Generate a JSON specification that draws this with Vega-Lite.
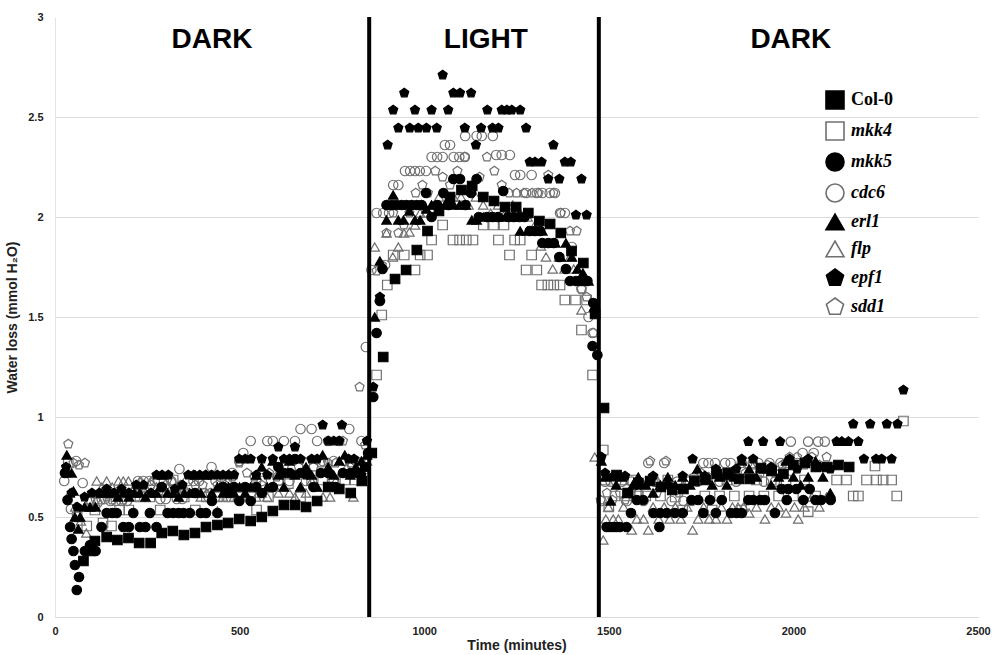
{
"$schema":"https://vega.github.io/schema/vega-lite/v6.json",
"width":923,"height":600,
"autosize":{"type":"none"},
"padding":{"left":55,"top":17,"right":16,"bottom":38},
"background":"white",
"config":{"view":{"stroke":null},"font":"Liberation Sans"},
"datasets":{
"marks":[{"t":851},{"t":1473}],
"labels":[{"t":425,"v":2.885,"label":"DARK"},{"t":1167,"v":2.885,"label":"LIGHT"},{"t":1993,"v":2.885,"label":"DARK"}],
"pts":[
{"s":"mkk4","t":36,"v":0.77},{"s":"mkk4","t":60,"v":0.5},{"s":"mkk4","t":86,"v":0.455},{"s":"mkk4","t":108,"v":0.535},{"s":"mkk4","t":130,"v":0.47},{"s":"mkk4","t":153,"v":0.455},{"s":"mkk4","t":175,"v":0.535},{"s":"mkk4","t":200,"v":0.535},{"s":"mkk4","t":230,"v":0.6},{"s":"mkk4","t":257,"v":0.6},{"s":"mkk4","t":285,"v":0.535},{"s":"mkk4","t":320,"v":0.685},{"s":"mkk4","t":350,"v":0.6},{"s":"mkk4","t":380,"v":0.535},{"s":"mkk4","t":410,"v":0.6},{"s":"mkk4","t":440,"v":0.6},{"s":"mkk4","t":470,"v":0.6},{"s":"mkk4","t":499,"v":0.6},{"s":"mkk4","t":530,"v":0.6},{"s":"mkk4","t":546,"v":0.535},{"s":"mkk4","t":578,"v":0.6},{"s":"mkk4","t":605,"v":0.685},{"s":"mkk4","t":632,"v":0.667},{"s":"mkk4","t":665,"v":0.6},{"s":"mkk4","t":695,"v":0.685},{"s":"mkk4","t":725,"v":0.685},{"s":"mkk4","t":755,"v":0.685},{"s":"mkk4","t":785,"v":0.685},{"s":"mkk4","t":813,"v":0.685},{"s":"mkk4","t":840,"v":0.77},
{"s":"mkk4","t":871,"v":1.21},{"s":"mkk4","t":885,"v":1.51},{"s":"mkk4","t":900,"v":1.66},{"s":"mkk4","t":916,"v":1.81},{"s":"mkk4","t":946,"v":1.81},{"s":"mkk4","t":975,"v":1.735},{"s":"mkk4","t":989,"v":1.81},{"s":"mkk4","t":1009,"v":1.81},{"s":"mkk4","t":1020,"v":1.885},{"s":"mkk4","t":1050,"v":1.96},{"s":"mkk4","t":1078,"v":1.885},{"s":"mkk4","t":1096,"v":1.885},{"s":"mkk4","t":1114,"v":1.885},{"s":"mkk4","t":1132,"v":1.885},{"s":"mkk4","t":1160,"v":1.96},{"s":"mkk4","t":1188,"v":1.96},{"s":"mkk4","t":1201,"v":1.885},{"s":"mkk4","t":1216,"v":1.96},{"s":"mkk4","t":1231,"v":1.81},{"s":"mkk4","t":1245,"v":1.885},{"s":"mkk4","t":1260,"v":1.885},{"s":"mkk4","t":1276,"v":1.735},{"s":"mkk4","t":1291,"v":1.81},{"s":"mkk4","t":1305,"v":1.735},{"s":"mkk4","t":1318,"v":1.66},{"s":"mkk4","t":1335,"v":1.66},{"s":"mkk4","t":1351,"v":1.66},{"s":"mkk4","t":1368,"v":1.66},{"s":"mkk4","t":1381,"v":1.585},{"s":"mkk4","t":1410,"v":1.585},{"s":"mkk4","t":1426,"v":1.435},{"s":"mkk4","t":1440,"v":1.585},{"s":"mkk4","t":1456,"v":1.21},
{"s":"mkk4","t":1485,"v":0.835},{"s":"mkk4","t":1490,"v":0.685},{"s":"mkk4","t":1500,"v":0.55},{"s":"mkk4","t":1517,"v":0.605},{"s":"mkk4","t":1535,"v":0.685},{"s":"mkk4","t":1550,"v":0.605},{"s":"mkk4","t":1565,"v":0.685},{"s":"mkk4","t":1580,"v":0.605},{"s":"mkk4","t":1600,"v":0.605},{"s":"mkk4","t":1620,"v":0.685},{"s":"mkk4","t":1640,"v":0.605},{"s":"mkk4","t":1660,"v":0.685},{"s":"mkk4","t":1680,"v":0.6},{"s":"mkk4","t":1700,"v":0.535},{"s":"mkk4","t":1720,"v":0.685},{"s":"mkk4","t":1740,"v":0.685},{"s":"mkk4","t":1760,"v":0.605},{"s":"mkk4","t":1780,"v":0.535},{"s":"mkk4","t":1800,"v":0.605},{"s":"mkk4","t":1820,"v":0.685},{"s":"mkk4","t":1840,"v":0.605},{"s":"mkk4","t":1860,"v":0.535},{"s":"mkk4","t":1880,"v":0.605},{"s":"mkk4","t":1900,"v":0.685},{"s":"mkk4","t":1920,"v":0.605},{"s":"mkk4","t":1940,"v":0.685},{"s":"mkk4","t":1960,"v":0.605},{"s":"mkk4","t":1980,"v":0.685},{"s":"mkk4","t":2000,"v":0.605},{"s":"mkk4","t":2030,"v":0.685},{"s":"mkk4","t":2040,"v":0.527},{"s":"mkk4","t":2060,"v":0.605},{"s":"mkk4","t":2117,"v":0.685},{"s":"mkk4","t":2144,"v":0.685},{"s":"mkk4","t":2162,"v":0.605},{"s":"mkk4","t":2176,"v":0.605},{"s":"mkk4","t":2198,"v":0.685},{"s":"mkk4","t":2221,"v":0.755},{"s":"mkk4","t":2225,"v":0.685},{"s":"mkk4","t":2243,"v":0.685},{"s":"mkk4","t":2266,"v":0.685},{"s":"mkk4","t":2280,"v":0.605},{"s":"mkk4","t":2298,"v":0.98},
{"s":"cdc6","t":25,"v":0.68},{"s":"cdc6","t":43,"v":0.54},{"s":"cdc6","t":57,"v":0.78},{"s":"cdc6","t":75,"v":0.67},{"s":"cdc6","t":95,"v":0.58},{"s":"cdc6","t":115,"v":0.57},{"s":"cdc6","t":135,"v":0.59},{"s":"cdc6","t":150,"v":0.58},{"s":"cdc6","t":165,"v":0.58},{"s":"cdc6","t":180,"v":0.58},{"s":"cdc6","t":195,"v":0.58},{"s":"cdc6","t":210,"v":0.62},{"s":"cdc6","t":225,"v":0.68},{"s":"cdc6","t":240,"v":0.68},{"s":"cdc6","t":255,"v":0.68},{"s":"cdc6","t":270,"v":0.68},{"s":"cdc6","t":285,"v":0.59},{"s":"cdc6","t":300,"v":0.59},{"s":"cdc6","t":315,"v":0.68},{"s":"cdc6","t":330,"v":0.59},{"s":"cdc6","t":337,"v":0.74},{"s":"cdc6","t":345,"v":0.59},{"s":"cdc6","t":360,"v":0.68},{"s":"cdc6","t":375,"v":0.68},{"s":"cdc6","t":390,"v":0.68},{"s":"cdc6","t":405,"v":0.62},{"s":"cdc6","t":424,"v":0.75},{"s":"cdc6","t":435,"v":0.68},{"s":"cdc6","t":450,"v":0.68},{"s":"cdc6","t":465,"v":0.68},{"s":"cdc6","t":480,"v":0.72},{"s":"cdc6","t":499,"v":0.78},{"s":"cdc6","t":510,"v":0.82},{"s":"cdc6","t":530,"v":0.88},{"s":"cdc6","t":545,"v":0.68},{"s":"cdc6","t":560,"v":0.68},{"s":"cdc6","t":575,"v":0.88},{"s":"cdc6","t":590,"v":0.88},{"s":"cdc6","t":605,"v":0.68},{"s":"cdc6","t":620,"v":0.88},{"s":"cdc6","t":635,"v":0.68},{"s":"cdc6","t":650,"v":0.88},{"s":"cdc6","t":665,"v":0.94},{"s":"cdc6","t":680,"v":0.68},{"s":"cdc6","t":695,"v":0.94},{"s":"cdc6","t":710,"v":0.88},{"s":"cdc6","t":725,"v":0.78},{"s":"cdc6","t":740,"v":0.88},{"s":"cdc6","t":755,"v":0.78},{"s":"cdc6","t":770,"v":0.88},{"s":"cdc6","t":785,"v":0.78},{"s":"cdc6","t":797,"v":0.94},{"s":"cdc6","t":815,"v":0.78},{"s":"cdc6","t":830,"v":0.88},{"s":"cdc6","t":842,"v":1.35},
{"s":"cdc6","t":857,"v":1.735},{"s":"cdc6","t":871,"v":2.02},{"s":"cdc6","t":889,"v":2.02},{"s":"cdc6","t":894,"v":1.76},{"s":"cdc6","t":905,"v":2.02},{"s":"cdc6","t":916,"v":2.16},{"s":"cdc6","t":930,"v":2.16},{"s":"cdc6","t":948,"v":2.23},{"s":"cdc6","t":962,"v":2.23},{"s":"cdc6","t":975,"v":2.23},{"s":"cdc6","t":988,"v":2.23},{"s":"cdc6","t":1005,"v":2.23},{"s":"cdc6","t":1020,"v":2.3},{"s":"cdc6","t":1035,"v":2.3},{"s":"cdc6","t":1050,"v":2.3},{"s":"cdc6","t":1056,"v":2.36},{"s":"cdc6","t":1070,"v":2.36},{"s":"cdc6","t":1080,"v":2.3},{"s":"cdc6","t":1095,"v":2.3},{"s":"cdc6","t":1110,"v":2.3},{"s":"cdc6","t":1111,"v":2.405},{"s":"cdc6","t":1142,"v":2.405},{"s":"cdc6","t":1156,"v":2.405},{"s":"cdc6","t":1186,"v":2.405},{"s":"cdc6","t":1195,"v":2.31},{"s":"cdc6","t":1210,"v":2.31},{"s":"cdc6","t":1232,"v":2.31},{"s":"cdc6","t":1246,"v":2.21},{"s":"cdc6","t":1260,"v":2.21},{"s":"cdc6","t":1276,"v":2.12},{"s":"cdc6","t":1291,"v":2.21},{"s":"cdc6","t":1305,"v":2.12},{"s":"cdc6","t":1320,"v":2.12},{"s":"cdc6","t":1340,"v":2.12},{"s":"cdc6","t":1354,"v":2.12},{"s":"cdc6","t":1368,"v":2.02},{"s":"cdc6","t":1381,"v":2.02},{"s":"cdc6","t":1400,"v":1.85},{"s":"cdc6","t":1426,"v":1.64},{"s":"cdc6","t":1445,"v":1.5},{"s":"cdc6","t":1456,"v":1.42},
{"s":"cdc6","t":1480,"v":0.58},{"s":"cdc6","t":1490,"v":0.677},{"s":"cdc6","t":1505,"v":0.677},{"s":"cdc6","t":1520,"v":0.677},{"s":"cdc6","t":1535,"v":0.677},{"s":"cdc6","t":1549,"v":0.58},{"s":"cdc6","t":1562,"v":0.677},{"s":"cdc6","t":1580,"v":0.677},{"s":"cdc6","t":1594,"v":0.58},{"s":"cdc6","t":1607,"v":0.77},{"s":"cdc6","t":1625,"v":0.677},{"s":"cdc6","t":1650,"v":0.77},{"s":"cdc6","t":1670,"v":0.58},{"s":"cdc6","t":1685,"v":0.677},{"s":"cdc6","t":1702,"v":0.58},{"s":"cdc6","t":1715,"v":0.677},{"s":"cdc6","t":1725,"v":0.58},{"s":"cdc6","t":1740,"v":0.677},{"s":"cdc6","t":1756,"v":0.77},{"s":"cdc6","t":1770,"v":0.77},{"s":"cdc6","t":1788,"v":0.77},{"s":"cdc6","t":1800,"v":0.677},{"s":"cdc6","t":1815,"v":0.77},{"s":"cdc6","t":1830,"v":0.77},{"s":"cdc6","t":1845,"v":0.677},{"s":"cdc6","t":1860,"v":0.77},{"s":"cdc6","t":1875,"v":0.77},{"s":"cdc6","t":1890,"v":0.77},{"s":"cdc6","t":1905,"v":0.77},{"s":"cdc6","t":1920,"v":0.677},{"s":"cdc6","t":1935,"v":0.77},{"s":"cdc6","t":1950,"v":0.677},{"s":"cdc6","t":1965,"v":0.77},{"s":"cdc6","t":1980,"v":0.77},{"s":"cdc6","t":1993,"v":0.877},{"s":"cdc6","t":2010,"v":0.77},{"s":"cdc6","t":2025,"v":0.82},{"s":"cdc6","t":2040,"v":0.877},{"s":"cdc6","t":2055,"v":0.82},{"s":"cdc6","t":2067,"v":0.877},{"s":"cdc6","t":2085,"v":0.877},
{"s":"flp","t":30,"v":0.72},{"s":"flp","t":40,"v":0.62},{"s":"flp","t":55,"v":0.55},{"s":"flp","t":70,"v":0.48},{"s":"flp","t":85,"v":0.42},{"s":"flp","t":100,"v":0.62},{"s":"flp","t":113,"v":0.68},{"s":"flp","t":127,"v":0.65},{"s":"flp","t":140,"v":0.68},{"s":"flp","t":155,"v":0.65},{"s":"flp","t":172,"v":0.68},{"s":"flp","t":185,"v":0.68},{"s":"flp","t":199,"v":0.68},{"s":"flp","t":215,"v":0.65},{"s":"flp","t":230,"v":0.68},{"s":"flp","t":245,"v":0.65},{"s":"flp","t":260,"v":0.68},{"s":"flp","t":275,"v":0.65},{"s":"flp","t":290,"v":0.62},{"s":"flp","t":305,"v":0.65},{"s":"flp","t":320,"v":0.68},{"s":"flp","t":335,"v":0.62},{"s":"flp","t":350,"v":0.65},{"s":"flp","t":365,"v":0.62},{"s":"flp","t":380,"v":0.62},{"s":"flp","t":395,"v":0.6},{"s":"flp","t":410,"v":0.62},{"s":"flp","t":425,"v":0.6},{"s":"flp","t":440,"v":0.53},{"s":"flp","t":455,"v":0.6},{"s":"flp","t":470,"v":0.62},{"s":"flp","t":485,"v":0.6},{"s":"flp","t":500,"v":0.65},{"s":"flp","t":515,"v":0.62},{"s":"flp","t":530,"v":0.65},{"s":"flp","t":545,"v":0.6},{"s":"flp","t":560,"v":0.62},{"s":"flp","t":575,"v":0.6},{"s":"flp","t":590,"v":0.65},{"s":"flp","t":605,"v":0.62},{"s":"flp","t":620,"v":0.65},{"s":"flp","t":635,"v":0.62},{"s":"flp","t":650,"v":0.6},{"s":"flp","t":665,"v":0.65},{"s":"flp","t":680,"v":0.62},{"s":"flp","t":695,"v":0.68},{"s":"flp","t":710,"v":0.65},{"s":"flp","t":726,"v":0.6},{"s":"flp","t":745,"v":0.6},{"s":"flp","t":760,"v":0.68},{"s":"flp","t":775,"v":0.72},{"s":"flp","t":790,"v":0.75},{"s":"flp","t":808,"v":0.6},{"s":"flp","t":825,"v":0.72},{"s":"flp","t":845,"v":0.78},
{"s":"flp","t":866,"v":1.85},{"s":"flp","t":880,"v":1.6},{"s":"flp","t":898,"v":1.92},{"s":"flp","t":915,"v":1.8},{"s":"flp","t":930,"v":1.85},{"s":"flp","t":945,"v":1.92},{"s":"flp","t":960,"v":1.925},{"s":"flp","t":975,"v":1.96},{"s":"flp","t":989,"v":2.02},{"s":"flp","t":1005,"v":2.02},{"s":"flp","t":1020,"v":2.06},{"s":"flp","t":1040,"v":2.1},{"s":"flp","t":1060,"v":2.06},{"s":"flp","t":1080,"v":2.1},{"s":"flp","t":1100,"v":2.1},{"s":"flp","t":1120,"v":2.06},{"s":"flp","t":1140,"v":2.1},{"s":"flp","t":1160,"v":2.06},{"s":"flp","t":1180,"v":2.02},{"s":"flp","t":1200,"v":2.06},{"s":"flp","t":1220,"v":2.02},{"s":"flp","t":1240,"v":2.06},{"s":"flp","t":1260,"v":2.02},{"s":"flp","t":1280,"v":2.0},{"s":"flp","t":1300,"v":1.96},{"s":"flp","t":1316,"v":1.855},{"s":"flp","t":1330,"v":1.8},{"s":"flp","t":1348,"v":1.74},{"s":"flp","t":1365,"v":1.8},{"s":"flp","t":1380,"v":1.74},{"s":"flp","t":1395,"v":1.8},{"s":"flp","t":1405,"v":1.74},{"s":"flp","t":1426,"v":1.535},{"s":"flp","t":1462,"v":0.8},
{"s":"flp","t":1485,"v":0.385},{"s":"flp","t":1492,"v":0.49},{"s":"flp","t":1499,"v":0.55},{"s":"flp","t":1512,"v":0.49},{"s":"flp","t":1526,"v":0.49},{"s":"flp","t":1540,"v":0.55},{"s":"flp","t":1562,"v":0.435},{"s":"flp","t":1576,"v":0.49},{"s":"flp","t":1594,"v":0.49},{"s":"flp","t":1607,"v":0.435},{"s":"flp","t":1620,"v":0.55},{"s":"flp","t":1635,"v":0.49},{"s":"flp","t":1650,"v":0.55},{"s":"flp","t":1665,"v":0.49},{"s":"flp","t":1680,"v":0.55},{"s":"flp","t":1695,"v":0.49},{"s":"flp","t":1712,"v":0.55},{"s":"flp","t":1727,"v":0.435},{"s":"flp","t":1742,"v":0.49},{"s":"flp","t":1757,"v":0.55},{"s":"flp","t":1772,"v":0.49},{"s":"flp","t":1790,"v":0.49},{"s":"flp","t":1805,"v":0.55},{"s":"flp","t":1820,"v":0.49},{"s":"flp","t":1835,"v":0.55},{"s":"flp","t":1850,"v":0.55},{"s":"flp","t":1865,"v":0.55},{"s":"flp","t":1880,"v":0.52},{"s":"flp","t":1900,"v":0.55},{"s":"flp","t":1923,"v":0.49},{"s":"flp","t":1940,"v":0.55},{"s":"flp","t":1960,"v":0.55},{"s":"flp","t":1980,"v":0.52},{"s":"flp","t":2003,"v":0.55},{"s":"flp","t":2013,"v":0.49},{"s":"flp","t":2030,"v":0.55},{"s":"flp","t":2050,"v":0.6},{"s":"flp","t":2070,"v":0.55},{"s":"flp","t":2090,"v":0.6},
{"s":"sdd1","t":36,"v":0.865},{"s":"sdd1","t":50,"v":0.77},{"s":"sdd1","t":65,"v":0.76},{"s":"sdd1","t":81,"v":0.77},{"s":"sdd1","t":95,"v":0.585},{"s":"sdd1","t":110,"v":0.585},{"s":"sdd1","t":125,"v":0.585},{"s":"sdd1","t":140,"v":0.6},{"s":"sdd1","t":155,"v":0.585},{"s":"sdd1","t":170,"v":0.6},{"s":"sdd1","t":185,"v":0.585},{"s":"sdd1","t":200,"v":0.62},{"s":"sdd1","t":220,"v":0.6},{"s":"sdd1","t":240,"v":0.62},{"s":"sdd1","t":260,"v":0.66},{"s":"sdd1","t":280,"v":0.62},{"s":"sdd1","t":300,"v":0.66},{"s":"sdd1","t":320,"v":0.62},{"s":"sdd1","t":340,"v":0.66},{"s":"sdd1","t":360,"v":0.62},{"s":"sdd1","t":380,"v":0.66},{"s":"sdd1","t":400,"v":0.66},{"s":"sdd1","t":420,"v":0.62},{"s":"sdd1","t":440,"v":0.66},{"s":"sdd1","t":460,"v":0.66},{"s":"sdd1","t":480,"v":0.7},{"s":"sdd1","t":499,"v":0.77},{"s":"sdd1","t":520,"v":0.72},{"s":"sdd1","t":540,"v":0.7},{"s":"sdd1","t":560,"v":0.66},{"s":"sdd1","t":580,"v":0.72},{"s":"sdd1","t":600,"v":0.7},{"s":"sdd1","t":620,"v":0.75},{"s":"sdd1","t":640,"v":0.72},{"s":"sdd1","t":660,"v":0.75},{"s":"sdd1","t":680,"v":0.77},{"s":"sdd1","t":700,"v":0.75},{"s":"sdd1","t":720,"v":0.77},{"s":"sdd1","t":740,"v":0.77},{"s":"sdd1","t":760,"v":0.77},{"s":"sdd1","t":780,"v":0.88},{"s":"sdd1","t":800,"v":0.77},{"s":"sdd1","t":825,"v":1.15},{"s":"sdd1","t":840,"v":0.86},
{"s":"sdd1","t":871,"v":1.73},{"s":"sdd1","t":885,"v":1.76},{"s":"sdd1","t":898,"v":1.92},{"s":"sdd1","t":916,"v":2.02},{"s":"sdd1","t":930,"v":1.92},{"s":"sdd1","t":945,"v":1.96},{"s":"sdd1","t":960,"v":2.02},{"s":"sdd1","t":977,"v":2.12},{"s":"sdd1","t":995,"v":2.16},{"s":"sdd1","t":1010,"v":2.12},{"s":"sdd1","t":1030,"v":2.23},{"s":"sdd1","t":1050,"v":2.2},{"s":"sdd1","t":1070,"v":2.16},{"s":"sdd1","t":1090,"v":2.23},{"s":"sdd1","t":1110,"v":2.3},{"s":"sdd1","t":1130,"v":2.16},{"s":"sdd1","t":1150,"v":2.2},{"s":"sdd1","t":1170,"v":2.3},{"s":"sdd1","t":1190,"v":2.23},{"s":"sdd1","t":1210,"v":2.16},{"s":"sdd1","t":1230,"v":2.12},{"s":"sdd1","t":1250,"v":2.12},{"s":"sdd1","t":1270,"v":2.12},{"s":"sdd1","t":1292,"v":2.12},{"s":"sdd1","t":1310,"v":2.12},{"s":"sdd1","t":1336,"v":2.21},{"s":"sdd1","t":1350,"v":2.12},{"s":"sdd1","t":1370,"v":2.02},{"s":"sdd1","t":1395,"v":1.93},{"s":"sdd1","t":1413,"v":1.93},{"s":"sdd1","t":1426,"v":1.64},{"s":"sdd1","t":1440,"v":1.6},{"s":"sdd1","t":1458,"v":1.42},
{"s":"sdd1","t":1478,"v":0.585},{"s":"sdd1","t":1495,"v":0.62},{"s":"sdd1","t":1510,"v":0.585},{"s":"sdd1","t":1530,"v":0.62},{"s":"sdd1","t":1544,"v":0.585},{"s":"sdd1","t":1560,"v":0.62},{"s":"sdd1","t":1580,"v":0.62},{"s":"sdd1","t":1600,"v":0.66},{"s":"sdd1","t":1612,"v":0.78},{"s":"sdd1","t":1630,"v":0.62},{"s":"sdd1","t":1655,"v":0.78},{"s":"sdd1","t":1670,"v":0.66},{"s":"sdd1","t":1690,"v":0.62},{"s":"sdd1","t":1710,"v":0.66},{"s":"sdd1","t":1730,"v":0.7},{"s":"sdd1","t":1750,"v":0.72},{"s":"sdd1","t":1770,"v":0.7},{"s":"sdd1","t":1790,"v":0.72},{"s":"sdd1","t":1810,"v":0.7},{"s":"sdd1","t":1830,"v":0.72},{"s":"sdd1","t":1850,"v":0.7},{"s":"sdd1","t":1870,"v":0.72},{"s":"sdd1","t":1890,"v":0.76},{"s":"sdd1","t":1910,"v":0.72},{"s":"sdd1","t":1930,"v":0.76},{"s":"sdd1","t":1950,"v":0.72},{"s":"sdd1","t":1970,"v":0.76},{"s":"sdd1","t":1990,"v":0.8},{"s":"sdd1","t":2010,"v":0.8},{"s":"sdd1","t":2030,"v":0.76},{"s":"sdd1","t":2050,"v":0.8},{"s":"sdd1","t":2070,"v":0.76},{"s":"sdd1","t":2090,"v":0.8},
{"s":"Col-0","t":77,"v":0.28},{"s":"Col-0","t":95,"v":0.33},{"s":"Col-0","t":108,"v":0.38},{"s":"Col-0","t":140,"v":0.4},{"s":"Col-0","t":169,"v":0.385},{"s":"Col-0","t":199,"v":0.395},{"s":"Col-0","t":228,"v":0.37},{"s":"Col-0","t":259,"v":0.37},{"s":"Col-0","t":289,"v":0.42},{"s":"Col-0","t":319,"v":0.43},{"s":"Col-0","t":349,"v":0.41},{"s":"Col-0","t":379,"v":0.42},{"s":"Col-0","t":409,"v":0.45},{"s":"Col-0","t":440,"v":0.46},{"s":"Col-0","t":469,"v":0.47},{"s":"Col-0","t":499,"v":0.49},{"s":"Col-0","t":530,"v":0.48},{"s":"Col-0","t":560,"v":0.5},{"s":"Col-0","t":590,"v":0.53},{"s":"Col-0","t":620,"v":0.56},{"s":"Col-0","t":650,"v":0.56},{"s":"Col-0","t":680,"v":0.55},{"s":"Col-0","t":710,"v":0.58},{"s":"Col-0","t":740,"v":0.65},{"s":"Col-0","t":770,"v":0.64},{"s":"Col-0","t":801,"v":0.62},{"s":"Col-0","t":831,"v":0.68},
{"s":"Col-0","t":858,"v":0.82},{"s":"Col-0","t":889,"v":1.3},{"s":"Col-0","t":921,"v":1.69},{"s":"Col-0","t":951,"v":1.735},{"s":"Col-0","t":980,"v":1.835},{"s":"Col-0","t":1009,"v":1.93},{"s":"Col-0","t":1040,"v":2.03},{"s":"Col-0","t":1070,"v":2.1},{"s":"Col-0","t":1101,"v":2.135},{"s":"Col-0","t":1130,"v":2.155},{"s":"Col-0","t":1160,"v":2.1},{"s":"Col-0","t":1189,"v":2.08},{"s":"Col-0","t":1219,"v":2.05},{"s":"Col-0","t":1249,"v":2.05},{"s":"Col-0","t":1282,"v":2.02},{"s":"Col-0","t":1312,"v":1.98},{"s":"Col-0","t":1341,"v":1.965},{"s":"Col-0","t":1370,"v":1.92},{"s":"Col-0","t":1399,"v":1.83},{"s":"Col-0","t":1431,"v":1.77},{"s":"Col-0","t":1463,"v":1.515},
{"s":"Col-0","t":1487,"v":1.045},{"s":"Col-0","t":1521,"v":0.71},{"s":"Col-0","t":1551,"v":0.62},{"s":"Col-0","t":1580,"v":0.67},{"s":"Col-0","t":1612,"v":0.68},{"s":"Col-0","t":1641,"v":0.65},{"s":"Col-0","t":1672,"v":0.635},{"s":"Col-0","t":1702,"v":0.64},{"s":"Col-0","t":1732,"v":0.68},{"s":"Col-0","t":1762,"v":0.685},{"s":"Col-0","t":1792,"v":0.715},{"s":"Col-0","t":1822,"v":0.72},{"s":"Col-0","t":1853,"v":0.69},{"s":"Col-0","t":1882,"v":0.69},{"s":"Col-0","t":1912,"v":0.745},{"s":"Col-0","t":1941,"v":0.73},{"s":"Col-0","t":1973,"v":0.715},{"s":"Col-0","t":2000,"v":0.76},{"s":"Col-0","t":2031,"v":0.77},{"s":"Col-0","t":2061,"v":0.75},{"s":"Col-0","t":2092,"v":0.75},{"s":"Col-0","t":2122,"v":0.76},{"s":"Col-0","t":2151,"v":0.75},
{"s":"mkk5","t":27,"v":0.72},{"s":"mkk5","t":34,"v":0.585},{"s":"mkk5","t":41,"v":0.45},{"s":"mkk5","t":45,"v":0.39},{"s":"mkk5","t":50,"v":0.33},{"s":"mkk5","t":54,"v":0.26},{"s":"mkk5","t":59,"v":0.135},{"s":"mkk5","t":65,"v":0.2},{"s":"mkk5","t":81,"v":0.33},{"s":"mkk5","t":95,"v":0.36},{"s":"mkk5","t":110,"v":0.33},{"s":"mkk5","t":126,"v":0.45},{"s":"mkk5","t":140,"v":0.52},{"s":"mkk5","t":155,"v":0.52},{"s":"mkk5","t":167,"v":0.52},{"s":"mkk5","t":185,"v":0.45},{"s":"mkk5","t":200,"v":0.45},{"s":"mkk5","t":212,"v":0.52},{"s":"mkk5","t":230,"v":0.45},{"s":"mkk5","t":245,"v":0.45},{"s":"mkk5","t":257,"v":0.52},{"s":"mkk5","t":275,"v":0.45},{"s":"mkk5","t":289,"v":0.65},{"s":"mkk5","t":305,"v":0.52},{"s":"mkk5","t":320,"v":0.52},{"s":"mkk5","t":335,"v":0.52},{"s":"mkk5","t":348,"v":0.52},{"s":"mkk5","t":365,"v":0.52},{"s":"mkk5","t":379,"v":0.62},{"s":"mkk5","t":395,"v":0.52},{"s":"mkk5","t":409,"v":0.52},{"s":"mkk5","t":425,"v":0.58},{"s":"mkk5","t":440,"v":0.52},{"s":"mkk5","t":455,"v":0.65},{"s":"mkk5","t":469,"v":0.62},{"s":"mkk5","t":485,"v":0.65},{"s":"mkk5","t":499,"v":0.58},{"s":"mkk5","t":515,"v":0.65},{"s":"mkk5","t":530,"v":0.58},{"s":"mkk5","t":545,"v":0.65},{"s":"mkk5","t":560,"v":0.62},{"s":"mkk5","t":590,"v":0.65},{"s":"mkk5","t":605,"v":0.75},{"s":"mkk5","t":620,"v":0.72},{"s":"mkk5","t":635,"v":0.72},{"s":"mkk5","t":650,"v":0.79},{"s":"mkk5","t":665,"v":0.72},{"s":"mkk5","t":680,"v":0.72},{"s":"mkk5","t":700,"v":0.65},{"s":"mkk5","t":720,"v":0.72},{"s":"mkk5","t":740,"v":0.72},{"s":"mkk5","t":760,"v":0.65},{"s":"mkk5","t":780,"v":0.72},{"s":"mkk5","t":800,"v":0.72},{"s":"mkk5","t":820,"v":0.72},{"s":"mkk5","t":840,"v":0.75},{"s":"mkk5","t":848,"v":0.82},
{"s":"mkk5","t":862,"v":1.1},{"s":"mkk5","t":871,"v":1.42},{"s":"mkk5","t":880,"v":1.58},{"s":"mkk5","t":887,"v":1.74},{"s":"mkk5","t":898,"v":2.06},{"s":"mkk5","t":912,"v":2.06},{"s":"mkk5","t":925,"v":2.06},{"s":"mkk5","t":939,"v":2.06},{"s":"mkk5","t":952,"v":2.06},{"s":"mkk5","t":966,"v":2.06},{"s":"mkk5","t":980,"v":2.06},{"s":"mkk5","t":993,"v":2.06},{"s":"mkk5","t":1005,"v":2.12},{"s":"mkk5","t":1020,"v":2.0},{"s":"mkk5","t":1035,"v":2.06},{"s":"mkk5","t":1052,"v":2.12},{"s":"mkk5","t":1066,"v":2.06},{"s":"mkk5","t":1079,"v":2.19},{"s":"mkk5","t":1097,"v":2.19},{"s":"mkk5","t":1112,"v":2.06},{"s":"mkk5","t":1127,"v":2.12},{"s":"mkk5","t":1142,"v":2.19},{"s":"mkk5","t":1148,"v":2.0},{"s":"mkk5","t":1170,"v":2.0},{"s":"mkk5","t":1185,"v":2.0},{"s":"mkk5","t":1200,"v":2.0},{"s":"mkk5","t":1214,"v":2.13},{"s":"mkk5","t":1228,"v":2.0},{"s":"mkk5","t":1243,"v":2.0},{"s":"mkk5","t":1258,"v":2.0},{"s":"mkk5","t":1272,"v":2.0},{"s":"mkk5","t":1286,"v":1.93},{"s":"mkk5","t":1300,"v":1.93},{"s":"mkk5","t":1314,"v":1.93},{"s":"mkk5","t":1320,"v":1.87},{"s":"mkk5","t":1336,"v":1.87},{"s":"mkk5","t":1351,"v":1.87},{"s":"mkk5","t":1366,"v":1.8},{"s":"mkk5","t":1384,"v":1.74},{"s":"mkk5","t":1395,"v":1.68},{"s":"mkk5","t":1411,"v":1.68},{"s":"mkk5","t":1426,"v":1.68},{"s":"mkk5","t":1442,"v":1.68},{"s":"mkk5","t":1458,"v":1.57},{"s":"mkk5","t":1456,"v":1.355},{"s":"mkk5","t":1469,"v":1.31},
{"s":"mkk5","t":1494,"v":0.45},{"s":"mkk5","t":1503,"v":0.45},{"s":"mkk5","t":1512,"v":0.45},{"s":"mkk5","t":1521,"v":0.45},{"s":"mkk5","t":1530,"v":0.45},{"s":"mkk5","t":1548,"v":0.45},{"s":"mkk5","t":1560,"v":0.52},{"s":"mkk5","t":1576,"v":0.585},{"s":"mkk5","t":1593,"v":0.585},{"s":"mkk5","t":1621,"v":0.52},{"s":"mkk5","t":1639,"v":0.52},{"s":"mkk5","t":1637,"v":0.45},{"s":"mkk5","t":1657,"v":0.52},{"s":"mkk5","t":1679,"v":0.52},{"s":"mkk5","t":1700,"v":0.52},{"s":"mkk5","t":1724,"v":0.585},{"s":"mkk5","t":1742,"v":0.585},{"s":"mkk5","t":1756,"v":0.52},{"s":"mkk5","t":1774,"v":0.585},{"s":"mkk5","t":1790,"v":0.52},{"s":"mkk5","t":1806,"v":0.585},{"s":"mkk5","t":1831,"v":0.52},{"s":"mkk5","t":1846,"v":0.52},{"s":"mkk5","t":1860,"v":0.52},{"s":"mkk5","t":1878,"v":0.585},{"s":"mkk5","t":1891,"v":0.585},{"s":"mkk5","t":1910,"v":0.585},{"s":"mkk5","t":1923,"v":0.585},{"s":"mkk5","t":1950,"v":0.52},{"s":"mkk5","t":1968,"v":0.64},{"s":"mkk5","t":1982,"v":0.585},{"s":"mkk5","t":1986,"v":0.64},{"s":"mkk5","t":2008,"v":0.64},{"s":"mkk5","t":2027,"v":0.585},{"s":"mkk5","t":2044,"v":0.64},{"s":"mkk5","t":2060,"v":0.585},{"s":"mkk5","t":2075,"v":0.585},{"s":"mkk5","t":2101,"v":0.585},
{"s":"erl1","t":32,"v":0.81},{"s":"erl1","t":45,"v":0.72},{"s":"erl1","t":50,"v":0.63},{"s":"erl1","t":54,"v":0.5},{"s":"erl1","t":63,"v":0.44},{"s":"erl1","t":68,"v":0.5},{"s":"erl1","t":80,"v":0.55},{"s":"erl1","t":95,"v":0.55},{"s":"erl1","t":110,"v":0.55},{"s":"erl1","t":125,"v":0.62},{"s":"erl1","t":140,"v":0.62},{"s":"erl1","t":155,"v":0.62},{"s":"erl1","t":170,"v":0.6},{"s":"erl1","t":185,"v":0.62},{"s":"erl1","t":200,"v":0.6},{"s":"erl1","t":215,"v":0.62},{"s":"erl1","t":230,"v":0.62},{"s":"erl1","t":245,"v":0.6},{"s":"erl1","t":260,"v":0.62},{"s":"erl1","t":275,"v":0.62},{"s":"erl1","t":290,"v":0.71},{"s":"erl1","t":305,"v":0.62},{"s":"erl1","t":320,"v":0.62},{"s":"erl1","t":335,"v":0.6},{"s":"erl1","t":350,"v":0.62},{"s":"erl1","t":365,"v":0.62},{"s":"erl1","t":380,"v":0.71},{"s":"erl1","t":395,"v":0.62},{"s":"erl1","t":410,"v":0.71},{"s":"erl1","t":425,"v":0.62},{"s":"erl1","t":440,"v":0.65},{"s":"erl1","t":455,"v":0.62},{"s":"erl1","t":470,"v":0.65},{"s":"erl1","t":485,"v":0.62},{"s":"erl1","t":500,"v":0.65},{"s":"erl1","t":515,"v":0.62},{"s":"erl1","t":530,"v":0.65},{"s":"erl1","t":545,"v":0.71},{"s":"erl1","t":560,"v":0.75},{"s":"erl1","t":575,"v":0.65},{"s":"erl1","t":590,"v":0.78},{"s":"erl1","t":605,"v":0.71},{"s":"erl1","t":620,"v":0.65},{"s":"erl1","t":635,"v":0.78},{"s":"erl1","t":650,"v":0.71},{"s":"erl1","t":665,"v":0.65},{"s":"erl1","t":680,"v":0.75},{"s":"erl1","t":695,"v":0.71},{"s":"erl1","t":710,"v":0.65},{"s":"erl1","t":725,"v":0.81},{"s":"erl1","t":740,"v":0.75},{"s":"erl1","t":755,"v":0.71},{"s":"erl1","t":770,"v":0.78},{"s":"erl1","t":785,"v":0.81},{"s":"erl1","t":800,"v":0.71},{"s":"erl1","t":815,"v":0.75},{"s":"erl1","t":830,"v":0.78},{"s":"erl1","t":845,"v":0.81},
{"s":"erl1","t":866,"v":1.5},{"s":"erl1","t":880,"v":1.78},{"s":"erl1","t":898,"v":1.985},{"s":"erl1","t":916,"v":2.11},{"s":"erl1","t":930,"v":1.985},{"s":"erl1","t":944,"v":1.985},{"s":"erl1","t":960,"v":2.03},{"s":"erl1","t":975,"v":1.985},{"s":"erl1","t":989,"v":1.985},{"s":"erl1","t":1006,"v":2.04},{"s":"erl1","t":1020,"v":2.06},{"s":"erl1","t":1040,"v":2.06},{"s":"erl1","t":1056,"v":2.06},{"s":"erl1","t":1080,"v":2.06},{"s":"erl1","t":1096,"v":2.06},{"s":"erl1","t":1112,"v":2.06},{"s":"erl1","t":1129,"v":1.985},{"s":"erl1","t":1142,"v":1.985},{"s":"erl1","t":1160,"v":2.0},{"s":"erl1","t":1180,"v":2.0},{"s":"erl1","t":1200,"v":2.0},{"s":"erl1","t":1220,"v":2.0},{"s":"erl1","t":1240,"v":2.0},{"s":"erl1","t":1260,"v":1.93},{"s":"erl1","t":1280,"v":1.93},{"s":"erl1","t":1300,"v":1.93},{"s":"erl1","t":1320,"v":1.93},{"s":"erl1","t":1340,"v":1.87},{"s":"erl1","t":1355,"v":1.87},{"s":"erl1","t":1370,"v":1.8},{"s":"erl1","t":1384,"v":1.87},{"s":"erl1","t":1400,"v":1.8},{"s":"erl1","t":1415,"v":1.74},{"s":"erl1","t":1430,"v":1.72},{"s":"erl1","t":1445,"v":1.68},{"s":"erl1","t":1460,"v":1.55},
{"s":"erl1","t":1480,"v":0.78},{"s":"erl1","t":1490,"v":0.7},{"s":"erl1","t":1505,"v":0.58},{"s":"erl1","t":1520,"v":0.66},{"s":"erl1","t":1535,"v":0.7},{"s":"erl1","t":1550,"v":0.62},{"s":"erl1","t":1565,"v":0.66},{"s":"erl1","t":1580,"v":0.7},{"s":"erl1","t":1600,"v":0.66},{"s":"erl1","t":1620,"v":0.62},{"s":"erl1","t":1640,"v":0.66},{"s":"erl1","t":1660,"v":0.7},{"s":"erl1","t":1680,"v":0.66},{"s":"erl1","t":1700,"v":0.7},{"s":"erl1","t":1720,"v":0.66},{"s":"erl1","t":1740,"v":0.74},{"s":"erl1","t":1760,"v":0.7},{"s":"erl1","t":1780,"v":0.66},{"s":"erl1","t":1800,"v":0.7},{"s":"erl1","t":1820,"v":0.66},{"s":"erl1","t":1840,"v":0.7},{"s":"erl1","t":1860,"v":0.78},{"s":"erl1","t":1880,"v":0.74},{"s":"erl1","t":1900,"v":0.7},{"s":"erl1","t":1920,"v":0.74},{"s":"erl1","t":1940,"v":0.66},{"s":"erl1","t":1960,"v":0.7},{"s":"erl1","t":1980,"v":0.78},{"s":"erl1","t":2000,"v":0.7},{"s":"erl1","t":2020,"v":0.66},{"s":"erl1","t":2040,"v":0.7},{"s":"erl1","t":2060,"v":0.78},{"s":"erl1","t":2080,"v":0.7},{"s":"erl1","t":2100,"v":0.62},
{"s":"epf1","t":30,"v":0.75},{"s":"epf1","t":45,"v":0.62},{"s":"epf1","t":60,"v":0.55},{"s":"epf1","t":80,"v":0.6},{"s":"epf1","t":100,"v":0.62},{"s":"epf1","t":120,"v":0.62},{"s":"epf1","t":140,"v":0.64},{"s":"epf1","t":160,"v":0.62},{"s":"epf1","t":180,"v":0.64},{"s":"epf1","t":200,"v":0.62},{"s":"epf1","t":220,"v":0.66},{"s":"epf1","t":240,"v":0.66},{"s":"epf1","t":260,"v":0.62},{"s":"epf1","t":275,"v":0.71},{"s":"epf1","t":290,"v":0.71},{"s":"epf1","t":307,"v":0.71},{"s":"epf1","t":325,"v":0.64},{"s":"epf1","t":345,"v":0.66},{"s":"epf1","t":361,"v":0.71},{"s":"epf1","t":376,"v":0.71},{"s":"epf1","t":392,"v":0.71},{"s":"epf1","t":408,"v":0.71},{"s":"epf1","t":424,"v":0.71},{"s":"epf1","t":440,"v":0.71},{"s":"epf1","t":455,"v":0.71},{"s":"epf1","t":470,"v":0.71},{"s":"epf1","t":485,"v":0.71},{"s":"epf1","t":499,"v":0.79},{"s":"epf1","t":515,"v":0.79},{"s":"epf1","t":530,"v":0.79},{"s":"epf1","t":545,"v":0.71},{"s":"epf1","t":560,"v":0.79},{"s":"epf1","t":575,"v":0.71},{"s":"epf1","t":590,"v":0.79},{"s":"epf1","t":605,"v":0.85},{"s":"epf1","t":620,"v":0.79},{"s":"epf1","t":635,"v":0.79},{"s":"epf1","t":650,"v":0.85},{"s":"epf1","t":665,"v":0.79},{"s":"epf1","t":680,"v":0.71},{"s":"epf1","t":695,"v":0.79},{"s":"epf1","t":710,"v":0.79},{"s":"epf1","t":725,"v":0.96},{"s":"epf1","t":740,"v":0.88},{"s":"epf1","t":755,"v":0.88},{"s":"epf1","t":770,"v":0.88},{"s":"epf1","t":777,"v":0.96},{"s":"epf1","t":795,"v":0.79},{"s":"epf1","t":810,"v":0.79},{"s":"epf1","t":830,"v":0.71},{"s":"epf1","t":845,"v":0.88},
{"s":"epf1","t":862,"v":1.15},{"s":"epf1","t":880,"v":1.6},{"s":"epf1","t":901,"v":2.36},{"s":"epf1","t":916,"v":2.535},{"s":"epf1","t":930,"v":2.445},{"s":"epf1","t":946,"v":2.62},{"s":"epf1","t":961,"v":2.445},{"s":"epf1","t":975,"v":2.535},{"s":"epf1","t":984,"v":2.445},{"s":"epf1","t":1006,"v":2.445},{"s":"epf1","t":1020,"v":2.535},{"s":"epf1","t":1034,"v":2.445},{"s":"epf1","t":1050,"v":2.71},{"s":"epf1","t":1065,"v":2.535},{"s":"epf1","t":1079,"v":2.62},{"s":"epf1","t":1097,"v":2.62},{"s":"epf1","t":1110,"v":2.445},{"s":"epf1","t":1127,"v":2.62},{"s":"epf1","t":1140,"v":2.36},{"s":"epf1","t":1154,"v":2.445},{"s":"epf1","t":1171,"v":2.535},{"s":"epf1","t":1185,"v":2.445},{"s":"epf1","t":1201,"v":2.445},{"s":"epf1","t":1210,"v":2.535},{"s":"epf1","t":1224,"v":2.535},{"s":"epf1","t":1237,"v":2.535},{"s":"epf1","t":1260,"v":2.535},{"s":"epf1","t":1276,"v":2.445},{"s":"epf1","t":1286,"v":2.275},{"s":"epf1","t":1300,"v":2.275},{"s":"epf1","t":1318,"v":2.275},{"s":"epf1","t":1336,"v":2.19},{"s":"epf1","t":1350,"v":2.36},{"s":"epf1","t":1366,"v":2.19},{"s":"epf1","t":1381,"v":2.275},{"s":"epf1","t":1397,"v":2.275},{"s":"epf1","t":1411,"v":2.01},{"s":"epf1","t":1426,"v":2.19},{"s":"epf1","t":1440,"v":2.01},
{"s":"epf1","t":1480,"v":0.8},{"s":"epf1","t":1490,"v":0.72},{"s":"epf1","t":1510,"v":0.7},{"s":"epf1","t":1544,"v":0.705},{"s":"epf1","t":1580,"v":0.66},{"s":"epf1","t":1620,"v":0.705},{"s":"epf1","t":1660,"v":0.66},{"s":"epf1","t":1700,"v":0.705},{"s":"epf1","t":1727,"v":0.79},{"s":"epf1","t":1760,"v":0.705},{"s":"epf1","t":1790,"v":0.74},{"s":"epf1","t":1820,"v":0.705},{"s":"epf1","t":1845,"v":0.74},{"s":"epf1","t":1860,"v":0.79},{"s":"epf1","t":1878,"v":0.877},{"s":"epf1","t":1891,"v":0.79},{"s":"epf1","t":1918,"v":0.877},{"s":"epf1","t":1940,"v":0.75},{"s":"epf1","t":1964,"v":0.877},{"s":"epf1","t":1990,"v":0.79},{"s":"epf1","t":2010,"v":0.74},{"s":"epf1","t":2040,"v":0.79},{"s":"epf1","t":2070,"v":0.75},{"s":"epf1","t":2100,"v":0.74},{"s":"epf1","t":2117,"v":0.877},{"s":"epf1","t":2131,"v":0.877},{"s":"epf1","t":2149,"v":0.877},{"s":"epf1","t":2162,"v":0.965},{"s":"epf1","t":2176,"v":0.877},{"s":"epf1","t":2191,"v":0.79},{"s":"epf1","t":2208,"v":0.965},{"s":"epf1","t":2224,"v":0.79},{"s":"epf1","t":2239,"v":0.79},{"s":"epf1","t":2253,"v":0.965},{"s":"epf1","t":2266,"v":0.79},{"s":"epf1","t":2282,"v":0.965},{"s":"epf1","t":2298,"v":1.135}
]},
"layer":[
{"data":{"name":"pts"},
 "mark":{"type":"point","opacity":1,"strokeWidth":1.2,"size":90},
 "encoding":{
  "x":{"field":"t","type":"quantitative","title":"Time (minutes)","scale":{"domain":[0,2500],"nice":false},
       "axis":{"values":[0,500,1000,1500,2000,2500],"format":"d","grid":false,"ticks":false,"domainColor":"#d9d9d9","labelFont":"Liberation Sans Narrow, Liberation Sans","labelFontWeight":"bold","labelFontSize":11,"labelColor":"#222","labelPadding":8,"labelFlush":false,"titleFont":"Liberation Sans","titleFontSize":14,"titleFontWeight":"bold","titleColor":"#222","titlePadding":2}},
  "y":{"field":"v","type":"quantitative","title":"Water loss (mmol H₂O)","scale":{"domain":[0,3],"nice":false},
       "axis":{"values":[0,0.5,1,1.5,2,2.5,3],"format":"~g","grid":true,"gridColor":"#dcdcdc","gridOpacity":{"condition":{"test":"datum.value == 3","value":0},"value":1},"ticks":false,"domainColor":"#e4e4e4","labelFontWeight":"bold","labelFontSize":11,"labelColor":"#222","labelPadding":12,"titleFontSize":14,"titleFontWeight":"bold","titleColor":"#222","titlePadding":8}},
  "shape":{"field":"s","type":"nominal",
    "scale":{"domain":["Col-0","mkk4","mkk5","cdc6","erl1","flp","epf1","sdd1"],
             "range":["square","square","circle","circle","triangle-up","triangle-up","M0,-1L0.951,-0.309L0.588,0.809L-0.588,0.809L-0.951,-0.309Z","M0,-1L0.951,-0.309L0.588,0.809L-0.588,0.809L-0.951,-0.309Z"]},
    "legend":{"title":null,"orient":"none","legendX":770,"legendY":73,"padding":0,"symbolSize":324,"symbolStrokeWidth":1.6,"labelFont":"Liberation Serif","labelFontSize":18,"labelFontWeight":"bold","labelColor":"black","labelOffset":6,"rowPadding":5,
      "labelFontStyle":{"expr":"datum.label === 'Col-0' ? 'normal' : 'italic'"},
      "encode":{"symbols":{"update":{"stroke":{"value":"black"}}}}}},
  "fill":{"field":"s","type":"nominal",
    "scale":{"domain":["Col-0","mkk4","mkk5","cdc6","erl1","flp","epf1","sdd1"],"range":["black","transparent","black","transparent","black","transparent","black","transparent"]}},
  "stroke":{"field":"s","type":"nominal",
    "scale":{"domain":["Col-0","mkk4","mkk5","cdc6","erl1","flp","epf1","sdd1"],"range":["black","#707070","black","#707070","black","#707070","black","#707070"]}}
 }},
{"data":{"name":"marks"},
 "mark":{"type":"rule","strokeWidth":4,"color":"black"},
 "encoding":{"x":{"field":"t","type":"quantitative","title":"Time (minutes)"}}},
{"data":{"name":"labels"},
 "mark":{"type":"text","font":"Liberation Sans","fontSize":28,"fontWeight":"bold","baseline":"middle","align":"center","color":"black"},
 "encoding":{"x":{"field":"t","type":"quantitative","title":"Time (minutes)"},"y":{"field":"v","type":"quantitative","title":"Water loss (mmol H₂O)"},"text":{"field":"label"}}}
]
}
